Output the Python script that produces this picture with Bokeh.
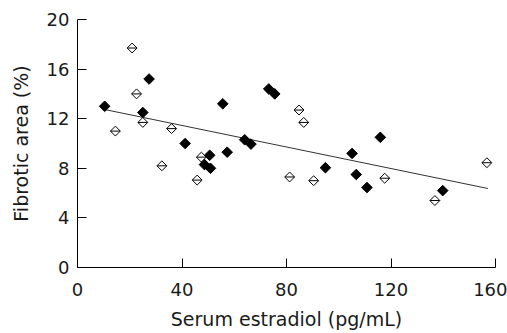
import math
from bokeh.plotting import figure
from bokeh.models import Range1d, FixedTicker
from bokeh.embed import file_html
from bokeh.resources import INLINE

# Filled diamonds
filled_x = [10.4, 27.4, 25.0, 55.6, 41.2, 50.6, 57.3, 64.0, 66.4, 73.2, 75.5,
            48.6, 50.9, 94.9, 105.1, 106.7, 110.8, 115.9, 139.8]
filled_y = [13.0, 15.2, 12.5, 13.2, 10.0, 9.05, 9.3, 10.3, 9.95, 14.4, 14.0,
            8.3, 8.0, 8.05, 9.2, 7.5, 6.45, 10.5, 6.2]

# Open diamonds
open_x = [20.9, 22.6, 25.0, 14.5, 36.0, 32.3, 47.4, 45.8, 84.8, 86.6, 81.2,
          90.4, 117.6, 136.8, 156.7]
open_y = [17.7, 14.0, 11.7, 11.0, 11.2, 8.2, 8.9, 7.05, 12.7, 11.7, 7.3,
          7.0, 7.2, 5.4, 8.45]

# Regression line end points
fit_x = [10.4, 157.1]
fit_y = [12.74, 6.37]

x_ticks = [0, 40, 80, 120, 160]
y_ticks = [0, 4, 8, 12, 16, 20]

FONT = "DejaVu Sans"

p = figure(width=507, height=333, output_backend="svg", toolbar_location=None,
           x_range=Range1d(0, 160), y_range=Range1d(0, 20),
           min_border_left=77, min_border_right=12, min_border_top=19,
           min_border_bottom=66)
p.outline_line_color = None
p.xgrid.visible = False
p.ygrid.visible = False
p.background_fill_color = "white"
p.border_fill_color = "white"

p.line(fit_x, fit_y, line_color="#333333", line_width=1)

p.scatter(open_x, open_y, marker="square", size=7, angle=math.pi / 4,
          fill_color="white", line_color="black", line_width=1)
p.scatter(open_x, open_y, marker="dash", size=9.5, line_color="black", line_width=1)

p.scatter(filled_x, filled_y, marker="square", size=7.5, angle=math.pi / 4,
          fill_color="black", line_color="black", line_width=1)

for ax in (p.xaxis[0], p.yaxis[0]):
    ax.axis_line_color = "black"
    ax.axis_line_width = 1
    ax.major_tick_in = 9
    ax.major_tick_out = 0
    ax.minor_tick_line_color = None
    ax.major_tick_line_color = "black"
    ax.major_label_text_font = FONT
    ax.major_label_text_font_size = "18px"
    ax.major_label_text_color = "#1a1a1a"
    ax.axis_label_text_font = FONT
    ax.axis_label_text_font_size = "19px"
    ax.axis_label_text_font_style = "normal"
    ax.axis_label_text_color = "#1a1a1a"

p.xaxis.ticker = FixedTicker(ticks=x_ticks)
p.yaxis.ticker = FixedTicker(ticks=y_ticks)
p.xaxis.axis_label = "Serum estradiol (pg/mL)"
p.yaxis.axis_label = "Fibrotic area (%)"
p.xaxis.major_label_standoff = 15
p.yaxis.major_label_standoff = 8
p.xaxis.axis_label_standoff = 9
p.yaxis.axis_label_standoff = 12

open("out.html", "w").write(file_html(p, INLINE))
